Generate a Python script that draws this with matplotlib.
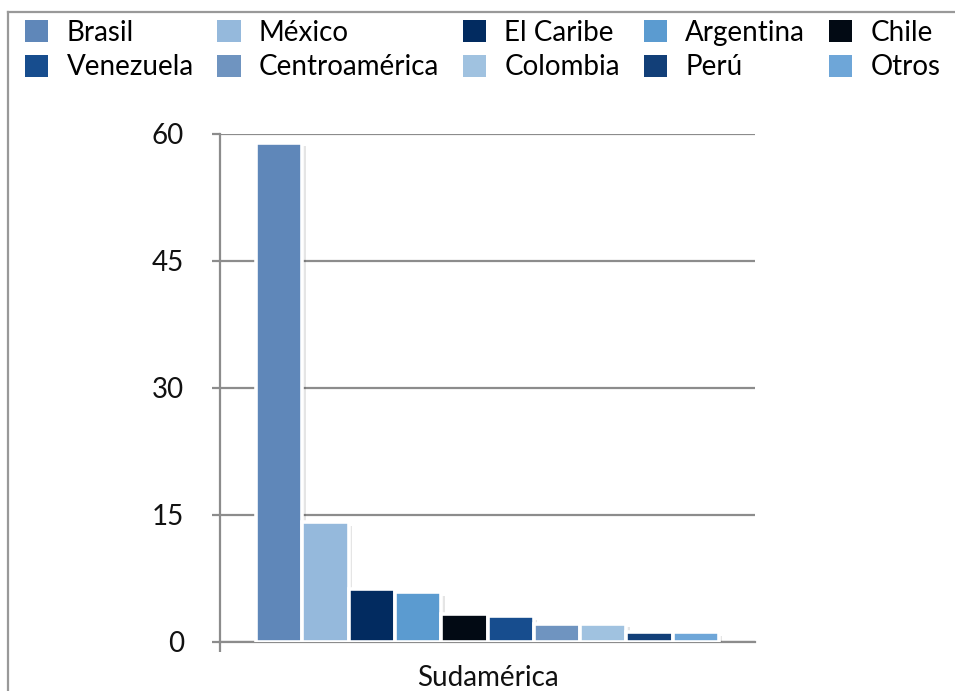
import matplotlib
matplotlib.use("Agg")
import matplotlib.pyplot as plt
import matplotlib.patheffects as pe
from matplotlib.lines import Line2D
from matplotlib.patches import Patch
import numpy as np

# Data
group_label = "Sudamérica"
countries = ["Brasil", "México", "El Caribe", "Argentina", "Chile",
             "Venezuela", "Centroamérica", "Colombia", "Perú", "Otros"]
values = [58.9, 14.1, 6.2, 5.8, 3.3, 3.0, 2.1, 2.1, 1.1, 1.1]
colors = ["#5F87B9", "#95B9DC", "#022B60", "#5B9BD0", "#020A14",
          "#174D8E", "#6F94C0", "#A0C2E0", "#123F78", "#6EA6D8"]
y_ticks = [0, 15, 30, 45, 60]

text_font = ["Lato", "DejaVu Sans"]
grid_color = "#8C8C8C"

fig = plt.figure(figsize=(9.55, 6.91), dpi=100)
ax = fig.add_axes([0.2304, 0.0716, 0.5602, 0.7352])

n = len(values)
slot = 0.0865
offsets = (np.arange(n) - (n - 1) / 2) * slot

shadow = [pe.SimplePatchShadow(offset=(2.5, -2.5), shadow_rgbFace="#000000", alpha=0.10), pe.Normal()]
for off, v, c in zip(offsets, values, colors):
    ax.bar(off, v, width=slot, color=c, edgecolor="white", linewidth=2.6,
           zorder=3, path_effects=shadow)

ax.set_xlim(-0.5, 0.5)
ax.set_ylim(0, 60)
ax.set_yticks(y_ticks)
ax.set_yticklabels([str(t) for t in y_ticks], fontfamily=text_font, fontsize=20, color="#111111")
ax.yaxis.grid(True, color=grid_color, linewidth=1.6, zorder=0)
ax.tick_params(axis="y", length=6, width=1.6, color=grid_color, pad=20)

ax.set_xticks([-0.5])
ax.set_xticklabels([""])
ax.set_xticks([0], minor=True)
ax.set_xticklabels([group_label], minor=True, fontfamily=text_font, fontsize=20, color="#111111")
ax.tick_params(axis="x", which="major", length=7, width=1.6, color=grid_color)
ax.tick_params(axis="x", which="minor", length=0, pad=17)

for side in ("top", "right"):
    ax.spines[side].set_visible(False)
for side in ("left", "bottom"):
    ax.spines[side].set_color(grid_color)
    ax.spines[side].set_linewidth(1.6)

# Outer frame (top and left edges visible)
fx, fy = 8 / 955, 1 - 12 / 691
fig.add_artist(Line2D([fx, fx], [0, fy], transform=fig.transFigure, color="#999999", lw=1.6))
fig.add_artist(Line2D([fx, 1], [fy, fy], transform=fig.transFigure, color="#999999", lw=1.6))

# Legend: 5 columns, filled row by row
order = [0, 5, 1, 6, 2, 7, 3, 8, 4, 9]
handles = [Patch(facecolor=colors[i], edgecolor="none") for i in order]
labels = [countries[i] for i in order]
fig.legend(handles, labels, ncol=5, loc="upper left", bbox_to_anchor=(0.026, 0.971),
           frameon=False, prop={"family": text_font, "size": 20},
           handlelength=0.85, handleheight=0.85, handletextpad=0.65,
           columnspacing=0.85, labelspacing=0.3, borderaxespad=0, borderpad=0)

fig.savefig("out.png", dpi=100, facecolor="white")
